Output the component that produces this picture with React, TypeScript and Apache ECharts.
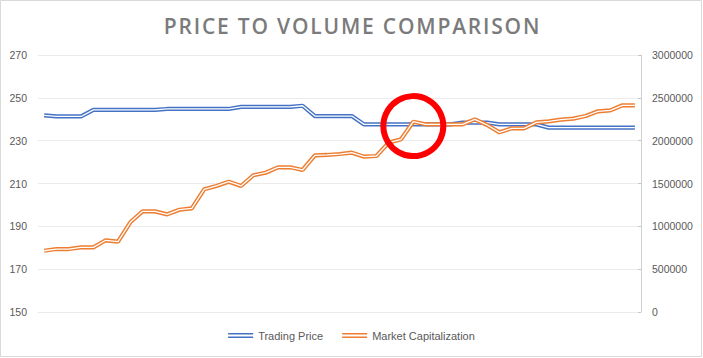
import React, { useEffect, useRef } from "react";
import * as echarts from "echarts";

const titleText = "PRICE TO VOLUME COMPARISON";
const seriesNames = ["Trading Price", "Market Capitalization"];
const periods = [
  "1", "2", "3", "4", "5", "6", "7", "8", "9", "10",
  "11", "12", "13", "14", "15", "16", "17", "18", "19", "20",
  "21", "22", "23", "24", "25", "26", "27", "28", "29", "30",
  "31", "32", "33", "34", "35", "36", "37", "38", "39", "40",
  "41", "42", "43", "44", "45", "46", "47", "48", "49",
];
const tradingPrice = [
  241.8, 241.3, 241.3, 241.3, 244.4, 244.4, 244.4, 244.4, 244.4, 244.4,
  244.8, 244.8, 244.8, 244.8, 244.8, 244.8, 245.8, 245.8, 245.8, 245.8,
  245.8, 246.3, 241.5, 241.5, 241.5, 241.5, 237.6, 237.6, 237.6, 237.6,
  237.6, 237.6, 237.6, 237.6, 238.4, 238.4, 238.4, 237.6, 237.6, 237.6,
  237.6, 236.1, 236.1, 236.1, 236.1, 236.1, 236.1, 236.1, 236.1,
];
const marketCap = [
  715000, 735000, 735000, 755000, 755000, 837000, 821000, 1047000, 1175000, 1175000,
  1140000, 1194000, 1210000, 1432000, 1471000, 1521000, 1471000, 1596000, 1626000, 1689000,
  1689000, 1658000, 1829000, 1833000, 1844000, 1860000, 1813000, 1821000, 1977000, 2016000,
  2221000, 2191000, 2191000, 2191000, 2191000, 2249000, 2183000, 2097000, 2144000, 2144000,
  2214000, 2226000, 2245000, 2257000, 2288000, 2343000, 2354000, 2413000, 2413000,
];
// annotation circle anchor (category index, market-cap value)
const highlightIndex = 30;
const highlightValue = 2170000;

const BLUE = "#4472c4";
const ORANGE = "#ed7d31";
const LABEL = "#595959";
const GRID = "#ebebeb";
const doubleIcon = "path://M0,0H25V1.6H0Z M0,3.4H25V5H0Z";

export default function App() {
  const ref = useRef<HTMLDivElement>(null);
  useEffect(() => {
    if (!ref.current) return;
    const chart = echarts.init(ref.current, null, { renderer: "svg" });
    const outer = (name: string, data: number[], color: string, yi: number) => ({
      name,
      type: "line",
      yAxisIndex: yi,
      data,
      symbol: "none",
      lineStyle: { color, width: 4.2 },
      itemStyle: { color },
      z: 2,
    });
    const inner = (name: string, data: number[], yi: number) => ({
      name,
      type: "line",
      yAxisIndex: yi,
      data,
      symbol: "none",
      lineStyle: { color: "#ffffff", width: 1.3 },
      itemStyle: { color: "#ffffff" },
      z: 2,
    });
    chart.setOption({
      animation: false,
      backgroundColor: "#ffffff",
      legend: {
        data: seriesNames.map((n, i) => ({ name: n, icon: doubleIcon, itemStyle: { color: i === 0 ? BLUE : ORANGE } })),
        left: "center",
        top: 325,
        itemWidth: 25,
        itemHeight: 5,
        itemGap: 19,
        textStyle: { color: LABEL, fontFamily: "Liberation Sans", fontSize: 11 },
      },
      grid: { left: 38, right: 62, top: 55, bottom: 46 },
      xAxis: {
        type: "category",
        data: periods,
        boundaryGap: true,
        axisLine: { show: true, lineStyle: { color: GRID } },
        axisTick: { show: false },
        axisLabel: { show: false },
      },
      yAxis: [
        {
          type: "value",
          min: 150,
          max: 270,
          interval: 20,
          axisLine: { show: false },
          axisTick: { show: false },
          splitLine: { lineStyle: { color: GRID } },
          axisLabel: { color: LABEL, fontFamily: "Liberation Sans", fontSize: 10.5, margin: 11 },
        },
        {
          type: "value",
          min: 0,
          max: 3000000,
          interval: 500000,
          position: "right",
          axisLine: { show: true, lineStyle: { color: "#d0d0d0" } },
          axisTick: { show: true, inside: true, length: 3, lineStyle: { color: "#c8c8c8" } },
          splitLine: { show: false },
          axisLabel: {
            color: LABEL,
            fontFamily: "Liberation Sans",
            fontSize: 10.5,
            margin: 11,
            formatter: (v: number) => String(v),
          },
        },
      ],
      series: [
        outer(seriesNames[0], tradingPrice, BLUE, 0),
        inner(seriesNames[0] + " inner", tradingPrice, 0),
        outer(seriesNames[1], marketCap, ORANGE, 1),
        inner(seriesNames[1] + " inner", marketCap, 1),
      ],
    });
    const cx = chart.convertToPixel({ xAxisIndex: 0 }, highlightIndex) as number;
    const cy = chart.convertToPixel({ yAxisIndex: 1 }, highlightValue) as number;
    chart.setOption({
      graphic: [
        {
          type: "rect",
          shape: { x: 0.5, y: 0.5, width: 701, height: 356 },
          style: { fill: "none", stroke: "#d9d9d9", lineWidth: 1 },
          silent: true,
        },
        {
          type: "text",
          x: 352.5,
          y: 25.5,
          style: {
            text: titleText,
            fontFamily: "Open Sans",
            fontWeight: 600,
            fontSize: 21,
            fill: "#7b7b7b",
            align: "center",
            verticalAlign: "middle",
          },
          silent: true,
        },
        {
          type: "circle",
          shape: { cx, cy, r: 30 },
          style: { fill: "none", stroke: "#ff0000", lineWidth: 6 },
          z: 10,
          silent: true,
        },
      ],
    });
    // widen the title's tracking like the original
    ref.current.querySelectorAll("text").forEach((t) => {
      if (t.textContent === titleText) t.setAttribute("letter-spacing", "1.8");
    });
    return () => chart.dispose();
  }, []);
  return (
    <div
      ref={ref}
      style={{ position: "fixed", left: 0, top: 0, width: 703, height: 358 }}
    />
  );
}
